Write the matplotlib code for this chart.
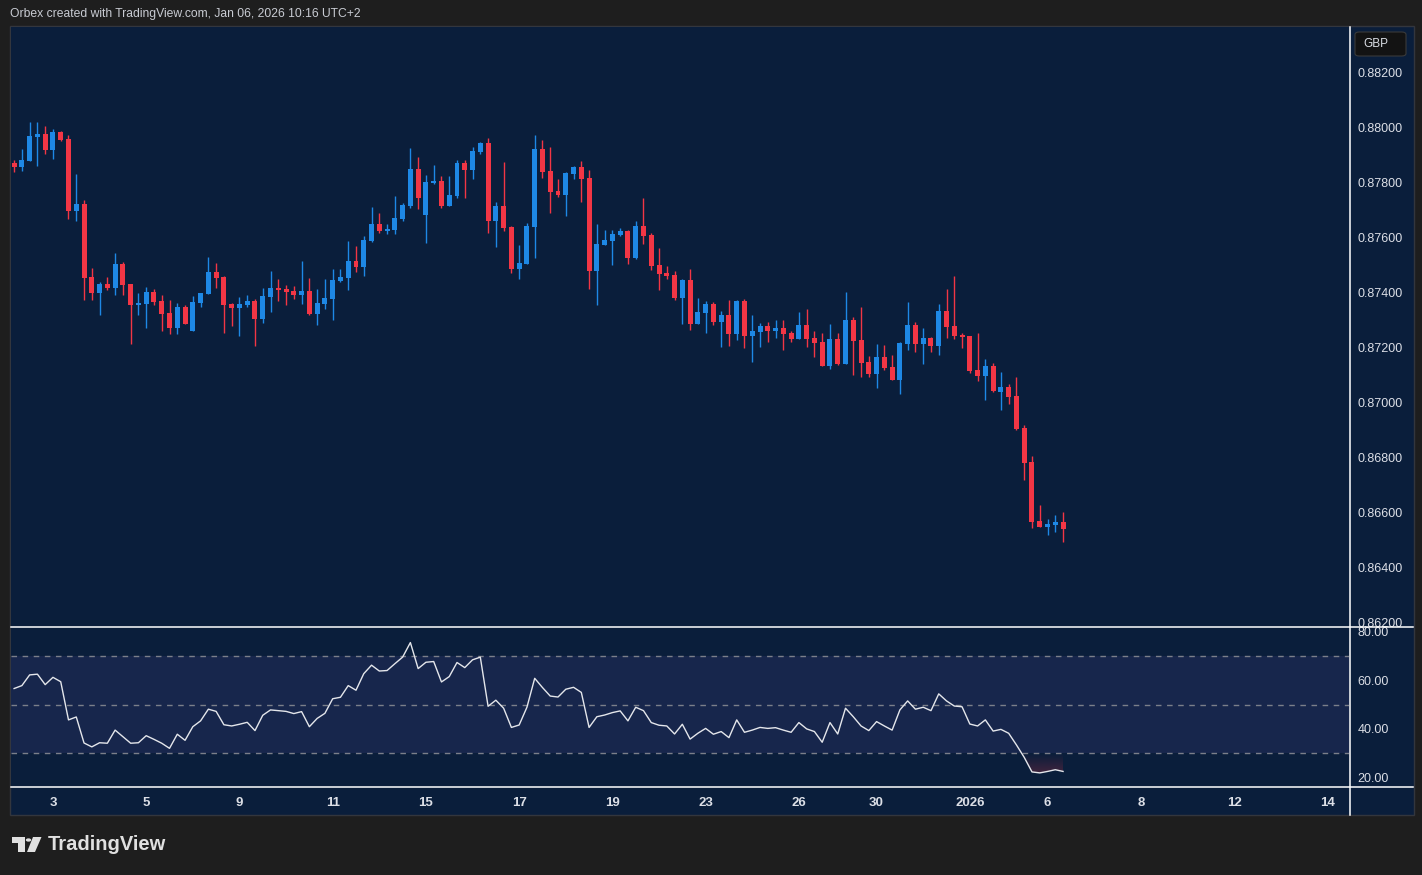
import numpy as np
import matplotlib.pyplot as plt
from matplotlib.patches import Rectangle, FancyBboxPatch, Circle, Polygon
from matplotlib.lines import Line2D

plt.rcParams['font.family'] = ['Liberation Sans', 'DejaVu Sans']

# 4h EURGBP candles
opens = [0.87869, 0.87855, 0.87876, 0.87964, 0.87975, 0.87916, 0.87982, 0.87956, 0.87695, 0.87720,
         0.87455, 0.87396, 0.87429, 0.87415, 0.87502, 0.87429, 0.87353, 0.87356, 0.87400, 0.87367,
         0.87324, 0.87269, 0.87345, 0.87258, 0.87360, 0.87393, 0.87473, 0.87455, 0.87356, 0.87342,
         0.87353, 0.87367, 0.87302, 0.87382, 0.87415, 0.87411, 0.87404, 0.87389, 0.87404, 0.87320,
         0.87356, 0.87375, 0.87440, 0.87451, 0.87513, 0.87491, 0.87585, 0.87647, 0.87622, 0.87625,
         0.87665, 0.87713, 0.87847, 0.87680, 0.87796, 0.87804, 0.87713, 0.87749, 0.87869, 0.87844,
         0.87909, 0.87942, 0.87658, 0.87713, 0.87636, 0.87484, 0.87502, 0.87636, 0.87920, 0.87840,
         0.87767, 0.87753, 0.87829, 0.87855, 0.87815, 0.87476, 0.87571, 0.87585, 0.87607, 0.87622,
         0.87524, 0.87640, 0.87607, 0.87498, 0.87469, 0.87462, 0.87378, 0.87444, 0.87284, 0.87324,
         0.87356, 0.87291, 0.87316, 0.87247, 0.87367, 0.87240, 0.87255, 0.87276, 0.87258, 0.87269,
         0.87251, 0.87229, 0.87280, 0.87233, 0.87218, 0.87131, 0.87229, 0.87138, 0.87298, 0.87225,
         0.87145, 0.87102, 0.87164, 0.87127, 0.87080, 0.87211, 0.87280, 0.87211, 0.87233, 0.87204,
         0.87331, 0.87276, 0.87244, 0.87240, 0.87116, 0.87095, 0.87131, 0.87036, 0.87054, 0.87022,
         0.86905, 0.86782, 0.86567, 0.86545, 0.86553, 0.86564]
highs = [0.87880, 0.87920, 0.88018, 0.88018, 0.88004, 0.87993, 0.87986, 0.87971, 0.87829, 0.87735,
         0.87487, 0.87436, 0.87455, 0.87542, 0.87509, 0.87429, 0.87396, 0.87418, 0.87411, 0.87389,
         0.87371, 0.87360, 0.87353, 0.87385, 0.87396, 0.87527, 0.87505, 0.87458, 0.87360, 0.87382,
         0.87389, 0.87375, 0.87415, 0.87476, 0.87447, 0.87425, 0.87422, 0.87513, 0.87451, 0.87411,
         0.87447, 0.87484, 0.87484, 0.87585, 0.87567, 0.87604, 0.87709, 0.87687, 0.87647, 0.87749,
         0.87724, 0.87924, 0.87891, 0.87825, 0.87862, 0.87822, 0.87822, 0.87880, 0.87880, 0.87927,
         0.87945, 0.87960, 0.87727, 0.87873, 0.87640, 0.87571, 0.87651, 0.87971, 0.87953, 0.87927,
         0.87811, 0.87836, 0.87858, 0.87876, 0.87844, 0.87647, 0.87625, 0.87625, 0.87633, 0.87625,
         0.87658, 0.87742, 0.87615, 0.87560, 0.87495, 0.87476, 0.87447, 0.87484, 0.87378, 0.87367,
         0.87364, 0.87331, 0.87371, 0.87371, 0.87375, 0.87316, 0.87287, 0.87291, 0.87298, 0.87298,
         0.87258, 0.87327, 0.87338, 0.87258, 0.87251, 0.87284, 0.87251, 0.87400, 0.87309, 0.87345,
         0.87167, 0.87211, 0.87207, 0.87171, 0.87218, 0.87364, 0.87291, 0.87269, 0.87236, 0.87356,
         0.87411, 0.87458, 0.87251, 0.87240, 0.87251, 0.87156, 0.87142, 0.87109, 0.87065, 0.87091,
         0.86916, 0.86804, 0.86625, 0.86575, 0.86589, 0.86600]
lows = [0.87836, 0.87840, 0.87876, 0.87858, 0.87902, 0.87884, 0.87949, 0.87665, 0.87658, 0.87371,
        0.87371, 0.87316, 0.87407, 0.87389, 0.87389, 0.87211, 0.87316, 0.87269, 0.87353, 0.87258,
        0.87247, 0.87247, 0.87284, 0.87258, 0.87345, 0.87393, 0.87415, 0.87251, 0.87276, 0.87240,
        0.87345, 0.87204, 0.87287, 0.87327, 0.87367, 0.87353, 0.87375, 0.87356, 0.87316, 0.87280,
        0.87338, 0.87298, 0.87436, 0.87407, 0.87473, 0.87458, 0.87582, 0.87615, 0.87611, 0.87611,
        0.87658, 0.87705, 0.87702, 0.87578, 0.87793, 0.87705, 0.87713, 0.87742, 0.87742, 0.87811,
        0.87902, 0.87615, 0.87564, 0.87622, 0.87469, 0.87447, 0.87502, 0.87524, 0.87815, 0.87687,
        0.87745, 0.87676, 0.87811, 0.87727, 0.87411, 0.87353, 0.87571, 0.87498, 0.87604, 0.87502,
        0.87520, 0.87575, 0.87480, 0.87407, 0.87447, 0.87371, 0.87284, 0.87262, 0.87284, 0.87251,
        0.87280, 0.87200, 0.87204, 0.87225, 0.87196, 0.87145, 0.87200, 0.87218, 0.87233, 0.87189,
        0.87218, 0.87229, 0.87200, 0.87164, 0.87131, 0.87120, 0.87135, 0.87138, 0.87098, 0.87091,
        0.87091, 0.87051, 0.87116, 0.87080, 0.87029, 0.87189, 0.87182, 0.87138, 0.87182, 0.87171,
        0.87233, 0.87229, 0.87196, 0.87105, 0.87076, 0.87007, 0.87036, 0.86971, 0.86993, 0.86898,
        0.86716, 0.86542, 0.86545, 0.86516, 0.86527, 0.86491]
closes = [0.87855, 0.87880, 0.87967, 0.87975, 0.87916, 0.87982, 0.87953, 0.87695, 0.87720, 0.87451,
          0.87396, 0.87429, 0.87415, 0.87502, 0.87425, 0.87353, 0.87360, 0.87400, 0.87364, 0.87320,
          0.87269, 0.87345, 0.87284, 0.87364, 0.87396, 0.87473, 0.87451, 0.87353, 0.87342, 0.87356,
          0.87367, 0.87302, 0.87385, 0.87415, 0.87407, 0.87400, 0.87389, 0.87404, 0.87320, 0.87360,
          0.87378, 0.87444, 0.87455, 0.87513, 0.87491, 0.87589, 0.87647, 0.87622, 0.87629, 0.87669,
          0.87716, 0.87847, 0.87742, 0.87800, 0.87804, 0.87713, 0.87753, 0.87869, 0.87844, 0.87913,
          0.87942, 0.87658, 0.87713, 0.87633, 0.87484, 0.87505, 0.87640, 0.87920, 0.87836, 0.87764,
          0.87753, 0.87833, 0.87855, 0.87811, 0.87476, 0.87575, 0.87589, 0.87611, 0.87622, 0.87524,
          0.87640, 0.87604, 0.87495, 0.87465, 0.87458, 0.87378, 0.87444, 0.87284, 0.87327, 0.87356,
          0.87291, 0.87316, 0.87247, 0.87367, 0.87240, 0.87258, 0.87276, 0.87258, 0.87269, 0.87247,
          0.87229, 0.87280, 0.87229, 0.87215, 0.87131, 0.87229, 0.87138, 0.87298, 0.87222, 0.87142,
          0.87102, 0.87164, 0.87124, 0.87080, 0.87215, 0.87280, 0.87211, 0.87233, 0.87204, 0.87331,
          0.87273, 0.87240, 0.87236, 0.87113, 0.87095, 0.87131, 0.87040, 0.87054, 0.87018, 0.86902,
          0.86778, 0.86564, 0.86545, 0.86556, 0.86564, 0.86538]

# RSI(14) per candle
rsi = [56.6, 57.8, 62.2, 62.5, 58.2, 61.2, 59.4, 43.7, 44.9, 34.2,
       32.6, 34.3, 34.1, 39.5, 36.8, 34.1, 34.3, 37.2, 35.7, 34.1,
       32.0, 37.8, 35.3, 40.9, 43.3, 48.1, 47.2, 41.7, 41.2, 41.9,
       42.7, 39.3, 45.6, 47.8, 47.5, 47.2, 46.3, 47.1, 40.9, 44.3,
       46.4, 52.4, 53.0, 57.8, 55.9, 62.7, 66.2, 63.8, 64.0, 66.8,
       69.5, 75.5, 64.8, 67.4, 67.7, 59.3, 61.5, 67.3, 65.2, 68.4,
       69.5, 49.3, 51.8, 48.5, 40.6, 41.6, 48.9, 60.8, 57.0, 53.5,
       53.1, 56.3, 57.1, 55.0, 40.6, 45.0, 45.7, 46.7, 47.4, 43.3,
       48.9, 47.5, 42.6, 41.5, 41.2, 37.9, 41.9, 35.8, 38.2, 40.2,
       37.8, 38.9, 36.4, 43.7, 38.6, 39.5, 40.6, 40.2, 40.5, 39.5,
       38.6, 42.6, 40.0, 38.9, 34.5, 42.6, 37.9, 48.5, 45.0, 41.2,
       39.3, 43.0, 41.2, 39.5, 47.8, 51.5, 48.1, 48.9, 47.5, 54.4,
       51.5, 49.4, 49.1, 42.0, 41.2, 43.7, 39.1, 39.8, 38.2, 33.4,
       28.3, 22.3, 21.9, 22.5, 23.2, 22.5]

# time axis: bar index of each date label
date_pos = [5, 17, 29, 41, 53, 65, 77, 89, 101, 111, 123, 133, 145, 157, 169]
date_labels = ['3', '5', '9', '11', '15', '17', '19', '23', '26', '30', '2026', '6', '8', '12', '14']
price_ticks = [0.862, 0.864, 0.866, 0.868, 0.870, 0.872, 0.874, 0.876, 0.878, 0.880, 0.882]
rsi_ticks = [20, 40, 60, 80]

BG = '#0a1e3b'
BAND = '#17264c'
UP = '#1e88e5'
DOWN = '#f23645'
TXT = '#dcdfe6'

W, H = 1422, 875


def fx(px):
    return px / W


def fy(py):
    return 1 - py / H


fig = plt.figure(figsize=(W / 100, H / 100), dpi=100, facecolor='#1e1e1e')

# chart frame (behind the axes)
fig.patches.append(Rectangle((fx(10), fy(815)), fx(1404), (815 - 26) / H, transform=fig.transFigure,
                             facecolor=BG, edgecolor='#33363d', lw=1, zorder=-5))

ax = fig.add_axes([fx(11), fy(626), fx(1338), (626 - 27) / H])
ax2 = fig.add_axes([fx(11), fy(787), fx(1338), (787 - 627) / H])

o = np.array(opens)
h = np.array(highs)
l = np.array(lows)
c = np.array(closes)
idx = np.arange(len(o))
colors = np.where(c >= o, UP, DOWN)

ax.vlines(idx, l, h, colors=colors, lw=1)
ax.bar(idx, np.maximum(np.abs(c - o), 0.00003), 0.64, bottom=np.minimum(o, c), color=colors, lw=0)

ax.set_xlim(-0.4, 171.8)
ax.set_ylim(0.86186, 0.88364)
ax.set_facecolor(BG)
ax.set_xticks([])
ax.yaxis.tick_right()
ax.set_yticks(price_ticks, [f'{p:.5f}' for p in price_ticks])
ax.tick_params(axis='y', length=0, pad=6, labelcolor=TXT, labelsize=9)
for s in ax.spines.values():
    s.set_visible(False)

# RSI panel
r = np.array(rsi)
ax2.set_facecolor(BG)
ax2.axhspan(30, 70, color=BAND, lw=0, zorder=0)
for lev in (70, 50, 30):
    ax2.axhline(lev, color='#7b7f8a', lw=1, dashes=(4, 4), zorder=1)

fill = ax2.fill_between(idx, r, 30, where=r < 30, interpolate=True, color='none', lw=0)
vals = np.linspace(30, 16, 100)
grad = np.zeros((100, 1, 4))
grad[..., 0] = 242 / 255
grad[..., 1] = 54 / 255
grad[..., 2] = 69 / 255
grad[:, 0, 3] = np.clip((30 - vals) / 10 * 0.28, 0, 0.4)
im = ax2.imshow(grad, extent=[0, idx[-1], 16, 30], aspect='auto', origin='upper', zorder=1.5)
im.set_clip_path(fill.get_paths()[0], transform=ax2.transData)

ax2.plot(idx, r, color='#e4e6eb', lw=1, zorder=3)
ax2.set_xlim(-0.4, 171.8)
ax2.set_ylim(16.1, 81.9)
ax2.yaxis.tick_right()
ax2.set_yticks(rsi_ticks, [f'{v:.2f}' for v in rsi_ticks])
ax2.tick_params(axis='y', length=0, pad=6, labelcolor=TXT, labelsize=9)
ax2.set_xticks(date_pos, date_labels)
ax2.tick_params(axis='x', length=0, pad=7, labelcolor=TXT, labelsize=9.5)
for t in ax2.get_xticklabels():
    t.set_fontweight('bold')
for s in ax2.spines.values():
    s.set_visible(False)

# separators
fig.add_artist(Line2D([fx(1349.5)] * 2, [fy(27), fy(815)], color='white', lw=1.1))
fig.add_artist(Line2D([fx(11), fx(1413)], [fy(626.5)] * 2, color='white', lw=1.1))
fig.add_artist(Line2D([fx(11), fx(1413)], [fy(787)] * 2, color='white', lw=1.1))

# currency box
fig.patches.append(FancyBboxPatch((fx(1355), fy(56)), fx(51), 24 / H, boxstyle='round,pad=0,rounding_size=0.003',
                                  transform=fig.transFigure, facecolor='#131313', edgecolor='#3a3a3a', lw=0.8))
fig.text(fx(1363), fy(44), 'GBP', color=TXT, fontsize=8.5, va='center', ha='left')

# header
fig.text(fx(10), fy(14), 'Orbex created with TradingView.com, Jan 06, 2026 10:16 UTC+2',
         color='#c8cbd2', fontsize=8.7, va='center', ha='left')

# TradingView logo
logo = '#e0e0e0'
fig.patches.append(Polygon([(fx(12), fy(837)), (fx(25), fy(837)), (fx(25), fy(852)), (fx(17.5), fy(852)),
                            (fx(17.5), fy(843)), (fx(12), fy(843))], closed=True, transform=fig.transFigure,
                           facecolor=logo, lw=0))
fig.patches.append(Circle((fx(28.5), fy(840)), 2.7 / W, transform=fig.transFigure, facecolor=logo, lw=0))
fig.patches.append(Polygon([(fx(33), fy(837)), (fx(41.5), fy(837)), (fx(35), fy(852)), (fx(27), fy(852))],
                           closed=True, transform=fig.transFigure, facecolor=logo, lw=0))
fig.text(fx(48), fy(845), 'TradingView', color=logo, fontsize=14.5, fontweight='bold', va='center', ha='left')

fig.savefig('out.png', dpi=100, facecolor=fig.get_facecolor())
